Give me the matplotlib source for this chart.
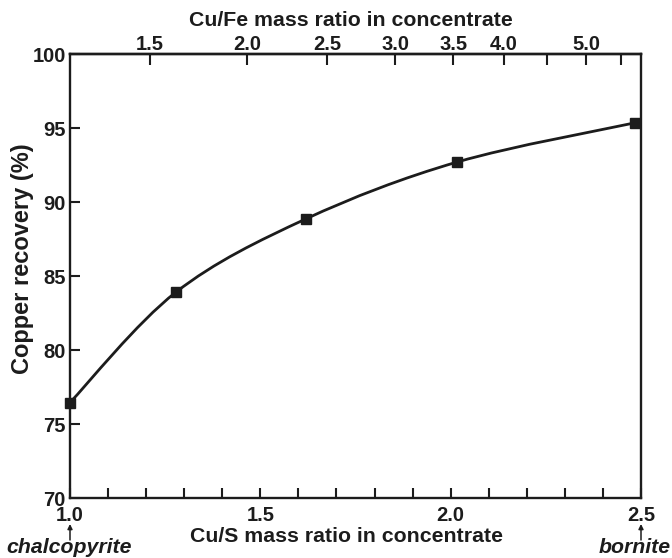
import numpy as np
import matplotlib
matplotlib.use("Agg")
import matplotlib.pyplot as plt
import matplotlib.transforms as mtransforms
from matplotlib.path import Path
from matplotlib.patches import PathPatch

plt.rcParams['font.family'] = ['Liberation Sans', 'DejaVu Sans']

# Measured points: Cu/S mass ratio vs copper recovery
cu_s_ratio = [1.0, 1.278, 1.619, 2.017, 2.484]
recovery = [76.45, 83.9, 88.85, 92.7, 95.35]

bottom_ticks_major = [1.0, 1.5, 2.0, 2.5]
bottom_ticks_minor = [1.1, 1.2, 1.3, 1.4, 1.6, 1.7, 1.8, 1.9, 2.1, 2.2, 2.3, 2.4]
y_ticks = [70, 75, 80, 85, 90, 95, 100]
top_ticks = [1.5, 2.0, 2.5, 3.0, 3.5, 4.0, 4.5, 5.0, 5.5]
top_labels = ['1.5', '2.0', '2.5', '3.0', '3.5', '4.0', '', '5.0', '']

# Mixture of chalcopyrite (CuFeS2) and bornite (Cu5FeS4)
M_CU, M_FE, M_S = 63.55, 55.85, 32.06


def cus_to_cufe(s):
    s = np.asarray(s, dtype=float)
    k = s * M_S / (2 * M_CU)
    r = 3 * k / (1 - k)
    return r * M_CU / M_FE


def cufe_to_cus(f):
    f = np.asarray(f, dtype=float)
    r = f * M_FE / M_CU
    return 2 * r * M_CU / ((3 + r) * M_S)


INK = '#1c1c1c'
W, H = 672, 558
fig = plt.figure(figsize=(W / 100, H / 100), dpi=100)
ax = fig.add_axes([70 / W, 1 - 498 / H, 571 / W, 444 / H])

ax.set_xlim(1.0, 2.5)
ax.set_ylim(70, 100)

# Smooth curve through the points (Catmull-Rom as cubic Bezier segments)
pts = np.column_stack([cu_s_ratio, recovery])
ext = np.vstack([pts[0], pts, pts[-1]])
verts = [tuple(pts[0])]
codes = [Path.MOVETO]
for i in range(1, len(ext) - 2):
    p0, p1, p2, p3 = ext[i - 1], ext[i], ext[i + 1], ext[i + 2]
    c1 = p1 + (p2 - p0) / 6.0
    c2 = p2 - (p3 - p1) / 6.0
    verts += [tuple(c1), tuple(c2), tuple(p2)]
    codes += [Path.CURVE4] * 3
curve = PathPatch(Path(verts, codes), facecolor='none', edgecolor=INK,
                  lw=2.0, transform=ax.transData, clip_on=False, zorder=3)
ax.add_patch(curve)
ax.plot(cu_s_ratio, recovery, ls='none', marker='s', ms=6.5, color=INK,
        clip_on=False, zorder=4)

for sp in ax.spines.values():
    sp.set_linewidth(1.7)
    sp.set_color(INK)

ax.set_xticks(bottom_ticks_major)
ax.set_xticklabels([f'{v:.1f}' for v in bottom_ticks_major])
ax.set_xticks(bottom_ticks_minor, minor=True)
ax.set_yticks(y_ticks)
ax.tick_params(axis='x', which='both', direction='in', length=7, width=1.5,
               color=INK, top=False, pad=6, labelsize=14.5, labelcolor=INK)
ax.tick_params(axis='y', direction='in', length=7.5, width=1.5, color=INK,
               right=False, pad=3, labelsize=14.5, labelcolor=INK)
for lab in ax.get_xticklabels() + ax.get_yticklabels():
    lab.set_fontweight('bold')

ax.set_ylabel('Copper recovery (%)', fontsize=17, fontweight='bold',
              color=INK, va='center')
ax.yaxis.set_label_coords((22.5 - 70) / 571, (498 - 259) / 444)

# px -> figure-fraction helpers for text placed below the axes
xdata_yfig = mtransforms.blended_transform_factory(ax.transData, fig.transFigure)


def fy(py):
    return 1 - py / H


ax.set_xlabel('Cu/S mass ratio in concentrate', fontsize=15.3,
              fontweight='bold', color=INK)
ax.xaxis.label.set_va('baseline')
ax.xaxis.set_label_coords((347 - 70) / 571, -(542 - 498) / 444)

sec = ax.secondary_xaxis('top', functions=(cus_to_cufe, cufe_to_cus))
sec.set_xticks(top_ticks)
sec.set_xticklabels(top_labels)
sec.tick_params(direction='in', length=8, width=1.5, color=INK, pad=0,
                labelsize=14.5, labelcolor=INK)
for lab in sec.get_xticklabels():
    lab.set_fontweight('bold')
sec.spines['top'].set_linewidth(1.7)
fig.text((351) / W, fy(26), 'Cu/Fe mass ratio in concentrate', fontsize=15.3,
         fontweight='bold', color=INK, ha='center', va='baseline')

# Mineral end-member annotations
for xval in (1.0, 2.5):
    ax.annotate('', xy=(xval, fy(524)), xycoords=xdata_yfig,
                xytext=(xval, fy(540)), textcoords=xdata_yfig,
                arrowprops=dict(arrowstyle='-|>', color=INK, lw=1.1,
                                mutation_scale=7, shrinkA=0, shrinkB=0),
                annotation_clip=False)
fig.text(68.7 / W, fy(553), 'chalcopyrite', fontsize=15.3, fontweight='bold',
         fontstyle='italic', color=INK, ha='center', va='baseline')
fig.text(635 / W, fy(553), 'bornite', fontsize=15.3, fontweight='bold',
         fontstyle='italic', color=INK, ha='center', va='baseline')

fig.savefig('out.png', dpi=100, facecolor='white')
